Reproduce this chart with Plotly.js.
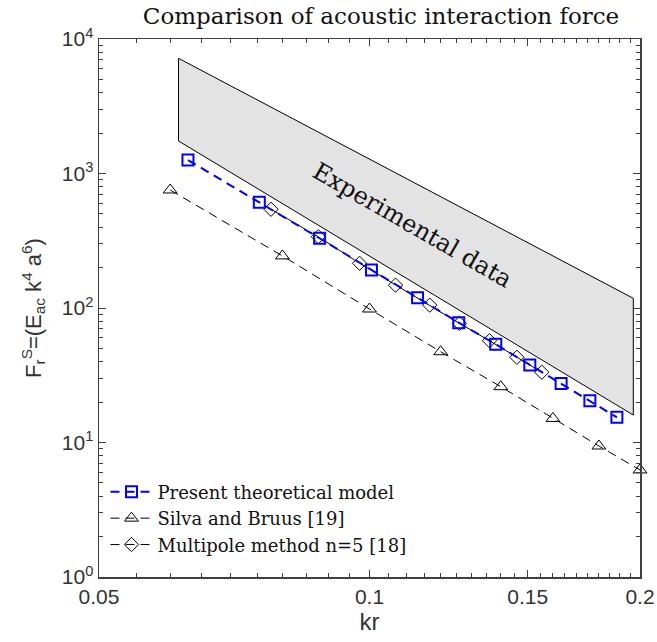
<!DOCTYPE html>
<html>
<head>
<meta charset="utf-8">
<script src="https://cdn.plot.ly/plotly-3.0.1.min.js"></script>
<style>html,body{margin:0;padding:0;background:#fff;}</style>
</head>
<body>
<div id="chart" style="width:657px;height:642px;"></div>
<script>
// Present theoretical model
const krPresent = [0.0628, 0.0754, 0.0880, 0.1005, 0.1131, 0.1257, 0.1382, 0.1508, 0.1634, 0.1759, 0.1885];
const fPresent  = [1259, 611, 330, 192, 119, 77.8, 53.7, 37.7, 27.5, 20.4, 15.4];
// Silva and Bruus [19]
const krSilva = [0.06, 0.08, 0.10, 0.12, 0.14, 0.16, 0.18, 0.20];
const fSilva  = [754, 244, 98.3, 47.3, 26.0, 15.1, 9.42, 6.25];
// Multipole method n=5 [18]
const krMulti = [0.0777, 0.0877, 0.0975, 0.1069, 0.1167, 0.1259, 0.1360, 0.1459, 0.1555];
const fMulti  = [542, 339, 215, 148, 105, 76.9, 57.1, 43.0, 33.3];
// Experimental data band (polygon corners)
const krExp = [0.0613, 0.1966, 0.1966, 0.0613, 0.0613];
const fExp  = [7183, 118, 16.0, 1745, 7183];

const xTickVals = [0.05, 0.1, 0.15, 0.2];
const xTickText = ['0.05', '0.1', '0.15', '0.2'];
const yTickVals = [1, 10, 100, 1000, 10000];
const yTickText = ['10<sup>0</sup>', '10<sup>1</sup>', '10<sup>2</sup>', '10<sup>3</sup>', '10<sup>4</sup>'];

const xMinor = [];
for (let i = 11; i <= 40; i++) { if (i % 10 !== 0) xMinor.push(i * 0.005); }
const yMinor = [];
[1, 10, 100, 1000].forEach(d => { for (let m = 2; m <= 9; m++) yMinor.push(m * d); });

const serif = 'DejaVu Serif, serif';
const sans = 'Liberation Sans, Arial, sans-serif';

const traces = [
  {
    x: krExp, y: fExp, mode: 'lines', fill: 'toself',
    fillcolor: '#e3e3e3', line: {color: '#000', width: 1},
    showlegend: false, hoverinfo: 'skip'
  },
  {
    x: krSilva, y: fSilva, mode: 'lines+markers', name: 'Silva and Bruus [19]',
    line: {color: '#000', width: 1, dash: '9px,6px'},
    marker: {symbol: 'triangle-up-open', size: 12, color: '#000', line: {width: 1, color: '#000'}},
    cliponaxis: false, legendrank: 2
  },
  {
    x: krMulti, y: fMulti, mode: 'lines+markers', name: 'Multipole method n=5 [18]',
    line: {color: '#000', width: 1, dash: '9px,6px'},
    marker: {symbol: 'diamond-open', size: 11, color: '#000', line: {width: 1, color: '#000'}},
    cliponaxis: false, legendrank: 3
  },
  {
    x: krPresent, y: fPresent, mode: 'lines+markers', name: 'Present theoretical model',
    line: {color: '#0000ff', width: 2, dash: '9px,6px'},
    marker: {symbol: 'square-open', size: 11, color: '#0000ff', line: {width: 2, color: '#0000ff'}},
    cliponaxis: false, legendrank: 1
  }
];

const axisCommon = {
  showgrid: false, zeroline: false, showline: true, linecolor: '#404040', linewidth: 1.5,
  mirror: 'allticks', ticks: 'inside', tickcolor: '#404040', tickwidth: 1, ticklen: 7,
  tickfont: {family: sans, size: 21, color: '#333'}
};

const layout = {
  width: 657, height: 642,
  margin: {l: 99, r: 17, t: 39, b: 65},
  paper_bgcolor: '#fff', plot_bgcolor: '#fff',
  title: {
    text: 'Comparison of acoustic interaction force',
    font: {family: serif, size: 23, color: '#111'},
    xref: 'container', x: 0.58, xanchor: 'center',
    yref: 'container', y: 0.975, yanchor: 'middle'
  },
  xaxis: Object.assign({}, axisCommon, {
    type: 'log', range: [Math.log10(0.05), Math.log10(0.2)],
    tickmode: 'array', tickvals: xTickVals, ticktext: xTickText,
    minor: {tickmode: 'array', tickvals: xMinor, ticks: 'inside', ticklen: 4, tickcolor: '#404040'},
    title: {text: 'kr', font: {family: sans, size: 24, color: '#333'}, standoff: 6}
  }),
  yaxis: Object.assign({}, axisCommon, {
    type: 'log', range: [0, 4],
    tickmode: 'array', tickvals: yTickVals, ticktext: yTickText,
    minor: {tickmode: 'array', tickvals: yMinor, ticks: 'inside', ticklen: 4, tickcolor: '#404040'},
    title: {text: 'F<sub>r</sub><sup>S</sup>=(E<sub>ac</sub> k<sup>4</sup> a<sup>6</sup>)', font: {family: sans, size: 22, color: '#333'}, standoff: 14}
  }),
  legend: {
    x: 0.012, y: 0.025, xanchor: 'left', yanchor: 'bottom',
    bgcolor: 'rgba(0,0,0,0)', borderwidth: 0,
    font: {family: serif, size: 18, color: '#111'},
    itemwidth: 42, tracegroupgap: 0
  },
  annotations: [{
    xref: 'paper', yref: 'paper', x: 0.5786, y: 0.654,
    text: 'Experimental data', showarrow: false, textangle: 30,
    font: {family: serif, size: 24, color: '#111'}
  }]
};

Plotly.newPlot('chart', traces, layout, {displayModeBar: false, staticPlot: true});
</script>
</body>
</html>
